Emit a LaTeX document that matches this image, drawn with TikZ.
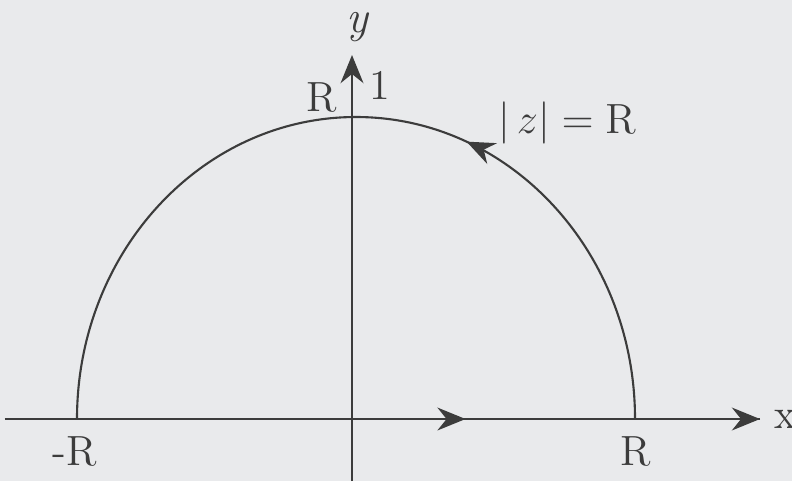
\documentclass[tikz,border=0pt]{standalone}
\usepackage{amsmath}
\usepackage{tikz}
\usetikzlibrary{arrows.meta,decorations.markings}
\definecolor{paper}{HTML}{E9EAEC}
\definecolor{ink}{HTML}{3C3C3C}
\tikzset{
    midarrow/.style={postaction={decorate},
        decoration={markings, mark=at position #1 with {\arrow{Stealth[length=8pt,width=6.5pt]}}}},
    lab/.style={font=\fontsize{12}{14}\selectfont, text=ink, inner sep=0pt}
}

\begin{document}
\begin{tikzpicture}[x=0.01cm, y=0.01cm, >={Stealth[length=8pt,width=6.5pt]}, semithick, draw=ink]
    \useasboundingbox[fill=paper] (-352,-62) rectangle (440,419);
    \coordinate (O) at (0,0);
    \coordinate (xs) at (-347,0);
    \coordinate (xe) at (408,0);
    \coordinate (ys) at (0,-62);
    \coordinate (ye) at (0,364);
    \coordinate (A) at (283,0);
    % axes
    \draw[ink, midarrow=0.61] (xs) -- (xe);
    \draw[ink, ->] (xs) -- (xe);
    \draw[ink, ->] (ys) -- (ye);
    % half circle
    \draw[ink, midarrow=0.375] (A) arc[start angle=0, end angle=180, x radius=279, y radius=302];
    \node[lab, font=\fontsize{13}{15}\selectfont\itshape] (ylab) at (5,392) {y};
    \node[lab] (xlab) at (433,0) {x};
    \node[lab] (top) at (-30,321) {R};
    \node[lab] (one) at (28,334) {1};
    \node[lab] (circ) at (215,296) {$|\,z| = \mathrm{R}$};
    \node[lab] (mR) at (-277,-33) {-R};
    \node[lab] (pR) at (284,-33) {R};
\end{tikzpicture}
\end{document}
